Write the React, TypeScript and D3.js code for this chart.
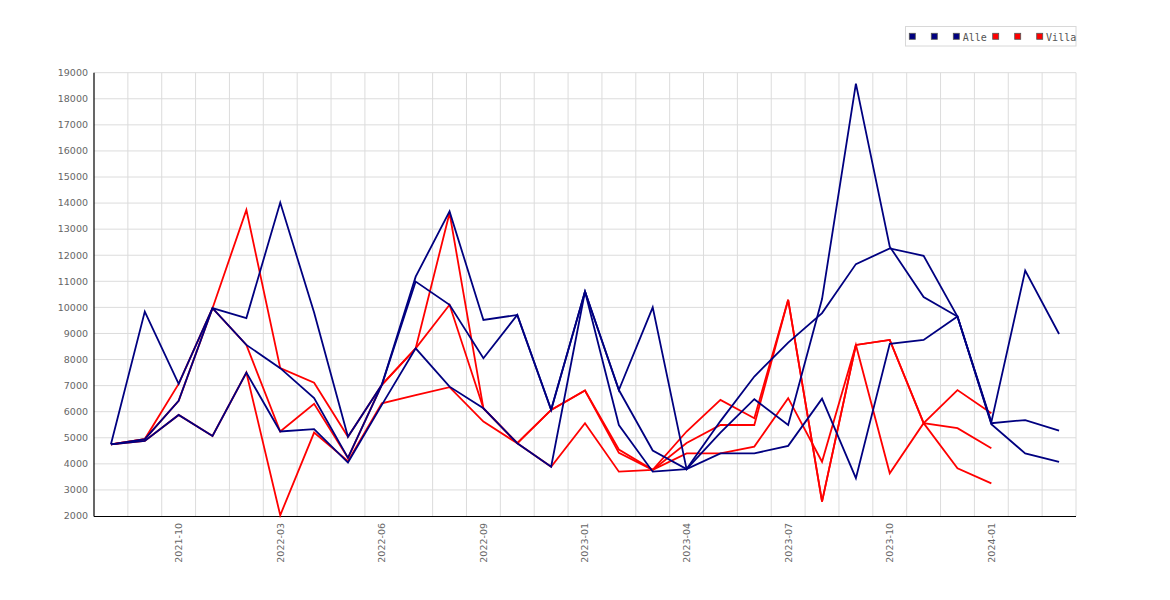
import React from "react";
import * as d3 from "d3";

const months = [
  "2021-08", "2021-09", "2021-10", "2021-11", "2022-01", "2022-03", "2022-04", "2022-05",
  "2022-06", "2022-07", "2022-08", "2022-09", "2022-10", "2022-12", "2023-01", "2023-02",
  "2023-03", "2023-04", "2023-05", "2023-06", "2023-07", "2023-08", "2023-09", "2023-10",
  "2023-11", "2023-12", "2024-01", "2024-02", "2024-03",
];

// navy group ("Alle")
const alle1 = [4750, 9840, 7070, 9970, 9590, 14020, 9800, 5040, 7030, 11180, 13680, 9520, 9710, 6070, 10610, 6830, 10000, 3800, 5640, 7350, 8650, 9780, 11660, 12260, 11980, 9650, 5600, 11410, 8980];
const alle2 = [4750, 4950, 6420, 9970, 8560, 7670, 6520, 4230, 7030, 10990, 10100, 8050, 9710, 6070, 10610, 6830, 4510, 3800, 5200, 6480, 5490, 10320, 18580, 12330, 10400, 9650, 5560, 5680, 5270];
const alle3 = [4750, 4880, 5875, 5070, 7500, 5240, 5330, 4050, 6260, 8430, 6960, 6130, 4790, 3890, 10610, 5490, 3700, 3800, 4400, 4400, 4690, 6500, 3450, 8600, 8750, 9650, 5520, 4400, 4080];

// red group ("Villa"), ends at 2024-01
const villa1 = [4750, 4950, 7065, 9970, 13740, 7670, 7110, 5040, 7030, 8430, 13620, 6130, 4790, 6070, 6810, 4550, 3770, 5240, 6450, 5750, 10290, 2550, 8560, 8750, 5560, 6830, 5940];
const villa2 = [4750, 4950, 6420, 9970, 8560, 5240, 6300, 4230, 7030, 8430, 10100, 6130, 4790, 6070, 6810, 4420, 3770, 4800, 5490, 5490, 10290, 2550, 8560, 8750, 5560, 5370, 4600];
const villa3 = [4750, 4880, 5875, 5070, 7500, 2030, 5200, 4100, 6320, 6640, 6940, 5620, 4790, 3890, 5560, 3700, 3770, 4400, 4400, 4660, 6520, 4080, 8560, 3640, 5560, 3830, 3250];

const series = [
  { name: "", color: "#000080", values: alle1 },
  { name: "", color: "#000080", values: alle2 },
  { name: "Alle", color: "#000080", values: alle3 },
  { name: "", color: "#ff0000", values: villa1 },
  { name: "", color: "#ff0000", values: villa2 },
  { name: "Villa", color: "#ff0000", values: villa3 },
];

const W = 1170;
const H = 600;
const left = 94;
const right = 1076;
const top = 72.7;
const bottom = 516;

const App = () => {
  const x = d3.scaleBand().domain(months).range([left, right]).padding(0);
  const y = d3.scaleLinear().domain([2000, 19000]).range([bottom, top]);
  const bw = x.bandwidth();
  const cx = (i: number) => (x(months[i]) as number) + bw / 2;

  const line = d3
    .line<number>()
    .x((_, i) => cx(i))
    .y((d) => y(d));

  const yTicks = y.ticks(17);

  // draw red under navy
  const drawOrder = [...series.slice(3), ...series.slice(0, 3)];

  let lx = 909.3;
  const legend = series.map((s) => {
    const item = { ...s, x: lx };
    lx += 22 + (s.name ? s.name.length * 6 - 6.6 : 0);
    return item;
  });

  return (
    <svg
      width={W}
      height={H}
      style={{ position: "absolute", left: 0, top: 0, background: "#fff" }}
    >
      <rect x={0} y={0} width={W} height={H} fill="#fff" />
      {/* grid */}
      {yTicks
        .filter((t) => t > 2000)
        .map((t) => (
          <line key={"h" + t} x1={left} x2={right} y1={y(t)} y2={y(t)} stroke="#dcdcdc" strokeWidth={1} />
        ))}
      {months.map((m, i) => (
        <line
          key={"v" + m}
          x1={(x(m) as number) + bw}
          x2={(x(m) as number) + bw}
          y1={top}
          y2={bottom}
          stroke="#dcdcdc"
          strokeWidth={1}
        />
      ))}
      {/* axes */}
      <line x1={left} x2={left} y1={top} y2={bottom + 0.5} stroke="#000" strokeWidth={1.2} />
      <line x1={left} x2={right} y1={bottom + 0.5} y2={bottom + 0.5} stroke="#000" strokeWidth={1.2} />
      {yTicks.map((t) => (
        <text
          key={"yl" + t}
          x={88}
          y={y(t)}
          dy="0.35em"
          textAnchor="end"
          fontFamily="DejaVu Sans"
          fontSize={9.5}
          fill="#666"
        >
          {t}
        </text>
      ))}
      {months.map((m, i) =>
        i % 3 === 2 ? (
          <text
            key={"xl" + m}
            transform={`translate(${cx(i)},${523}) rotate(-90)`}
            dy="0.35em"
            textAnchor="end"
            fontFamily="DejaVu Sans"
            fontSize={9.5}
            fill="#666"
          >
            {m}
          </text>
        ) : null
      )}
      {/* lines */}
      {drawOrder.map((s, k) => (
        <path
          key={"s" + k}
          d={line(s.values) as string}
          fill="none"
          stroke={s.color}
          strokeWidth={1.8}
          strokeLinejoin="miter"
        />
      ))}
      {/* legend */}
      <rect x={905.5} y={26.5} width={170.5} height={19.5} fill="#fff" stroke="#d8d8d8" strokeWidth={1} />
      {legend.map((s, i) => (
        <g key={"lg" + i}>
          <rect x={s.x} y={33.3} width={6} height={6} fill={s.color} stroke="#555" strokeWidth={0.8} />
          {s.name && (
            <text x={s.x + 9.4} y={40.5} fontFamily="DejaVu Sans Mono" fontSize={10} fill="#555">
              {s.name}
            </text>
          )}
        </g>
      ))}
    </svg>
  );
};

export default App;
